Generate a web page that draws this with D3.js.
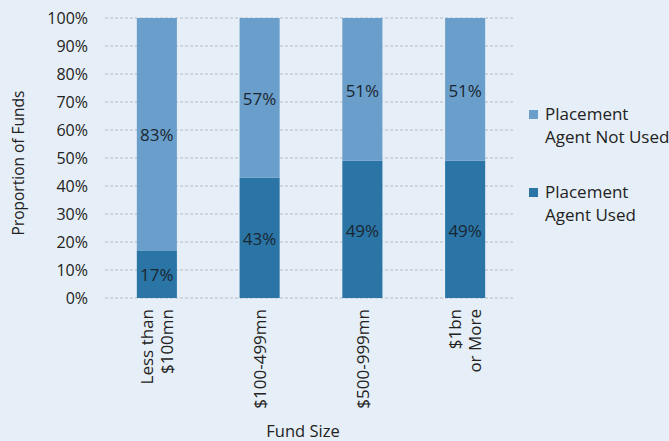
<!DOCTYPE html>
<html><head><meta charset="utf-8">
<script src="https://cdn.jsdelivr.net/npm/d3@7"></script>
<style>
html,body{margin:0;padding:0;background:#e6eff7;}
svg{display:block;font-family:"Open Sans","Noto Sans",sans-serif;}
</style></head>
<body>
<svg id="chart" width="669" height="441"></svg>
<script>
const categories = [["Less than","$100mn"],["$100-499mn"],["$500-999mn"],["$1bn","or More"]];
const agentUsed = [17, 43, 49, 49];
const agentNotUsed = [83, 57, 51, 51];
const yTicks = [0,10,20,30,40,50,60,70,80,90,100];
const seriesNames = [["Placement","Agent Not Used"],["Placement","Agent Used"]];
const colors = {notUsed:"#6a9fcb", used:"#2a75a6"};

const svg = d3.select("#chart");
svg.append("rect").attr("width",669).attr("height",441).attr("fill","#e6eff7");

const keys = categories.map((c,i)=>i);
const x = d3.scaleBand().domain(keys).range([106,516]).paddingInner(0.61).paddingOuter(0.3);
const y = d3.scaleLinear().domain([0,100]).range([298,18]);

// gridlines
svg.append("g").selectAll("line").data(yTicks).join("line")
  .attr("x1",105).attr("x2",515)
  .attr("y1",d=>y(d)).attr("y2",d=>y(d))
  .attr("stroke","#a9aeb4").attr("stroke-width",0.8).attr("stroke-dasharray","3,2");

// y axis labels
const yAxis = d3.axisLeft(y).tickValues(yTicks).tickFormat(d=>d+"%").tickSize(0).tickPadding(0);
const ya = svg.append("g").attr("transform","translate(88,0)").call(yAxis);
ya.select(".domain").remove();
ya.selectAll("text").attr("font-size",16).attr("fill","#222").attr("font-family","Open Sans, sans-serif").attr("dy","0.34em");

// bars
const data = keys.map(i=>({i, used:agentUsed[i], notUsed:agentNotUsed[i]}));
const g = svg.append("g");
g.selectAll(".bu").data(data).join("rect")
  .attr("x",d=>x(d.i)).attr("width",x.bandwidth())
  .attr("y",d=>y(d.used)).attr("height",d=>y(0)-y(d.used))
  .attr("fill",colors.used);
g.selectAll(".bn").data(data).join("rect")
  .attr("x",d=>x(d.i)).attr("width",x.bandwidth())
  .attr("y",d=>y(d.used+d.notUsed)).attr("height",d=>y(d.used)-y(d.used+d.notUsed))
  .attr("fill",colors.notUsed);

// value labels
g.selectAll(".lu").data(data).join("text")
  .attr("x",d=>x(d.i)+x.bandwidth()/2).attr("y",d=>(y(0)+y(d.used))/2+1)
  .attr("dy","0.36em").attr("text-anchor","middle").attr("font-size",17).attr("fill","#1a2630")
  .text(d=>d.used+"%");
g.selectAll(".ln").data(data).join("text")
  .attr("x",d=>x(d.i)+x.bandwidth()/2).attr("y",d=>(y(d.used)+y(d.used+d.notUsed))/2+1)
  .attr("dy","0.36em").attr("text-anchor","middle").attr("font-size",17).attr("fill","#1a2630")
  .text(d=>d.notUsed+"%");

// x labels rotated
const xl = svg.append("g");
keys.forEach(i=>{
  const lines = categories[i];
  const cx = x(i)+x.bandwidth()/2;
  const lh = 20;
  lines.forEach((t,j)=>{
    const off = (j-(lines.length-1)/2)*lh;
    xl.append("text")
      .attr("transform",`translate(${cx+off},309) rotate(-90)`)
      .attr("text-anchor","end").attr("dy","0.36em")
      .attr("font-size",17).attr("fill","#222").text(t);
  });
});

// axis titles
svg.append("text").attr("x",303).attr("y",437).attr("text-anchor","middle")
  .attr("font-size",16.5).attr("fill","#222").text("Fund Size");
svg.append("text").attr("transform","translate(24,163) rotate(-90)").attr("text-anchor","middle")
  .attr("font-size",15.5).attr("fill","#222").text("Proportion of Funds");

// legend
const legend = svg.append("g");
const legendItems = [{c:colors.notUsed, t:seriesNames[0], y:110},{c:colors.used, t:seriesNames[1], y:188}];
legendItems.forEach(it=>{
  legend.append("rect").attr("x",529).attr("y",it.y).attr("width",9).attr("height",9).attr("fill",it.c);
  it.t.forEach((s,j)=>{
    legend.append("text").attr("x",545).attr("y",it.y+10+j*23)
      .attr("font-size",17).attr("fill","#222").text(s);
  });
});
</script>
</body></html>
